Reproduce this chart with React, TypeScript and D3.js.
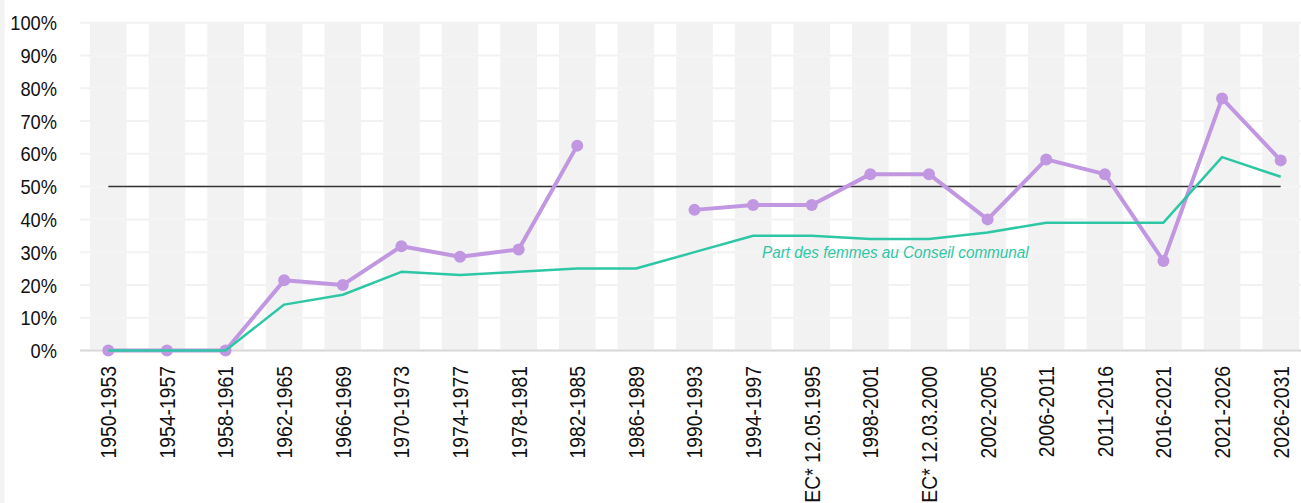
import React, { useEffect } from "react";
import * as d3 from "d3";

// Legislatures (x categories)
const periods = [
  "1950-1953", "1954-1957", "1958-1961", "1962-1965", "1966-1969", "1970-1973",
  "1974-1977", "1978-1981", "1982-1985", "1986-1989", "1990-1993", "1994-1997",
  "EC* 12.05.1995", "1998-2001", "EC* 12.03.2000", "2002-2005", "2006-2011",
  "2011-2016", "2016-2021", "2021-2026", "2026-2031",
];

// Share of women in the executive (null = no data)
const executiveShare: (number | null)[] = [
  0, 0, 0, 21.4, 20, 31.8, 28.6, 30.8, 62.5, null, 42.9, 44.4,
  44.4, 53.8, 53.8, 40, 58.3, 53.8, 27.3, 76.9, 58,
];

// Share of women in the Conseil communal
const councilShare: number[] = [
  0, 0, 0, 14, 17, 24, 23, 24, 25, 25, 30, 35,
  35, 34, 34, 36, 39, 39, 39, 59, 53,
];

const yTicks = [0, 10, 20, 30, 40, 50, 60, 70, 80, 90, 100];
const parityLevel = 50;
const councilLabel = "Part des femmes au Conseil communal";

const W = 1301;
const H = 503;
const FONT = "'Liberation Sans', Arial, sans-serif";
const NARROW = 0.87; // horizontal condensing of the label font
const PURPLE = "#c197e1";
const GREEN = "#2ec7a6";
const BAND = "#f2f2f2";

export default function App() {
  useEffect(() => {
    document.body.style.margin = "0";
  }, []);

  const x = d3.scaleBand<string>().domain(periods).range([79, 1310]).paddingInner(0.375).paddingOuter(0.1875);
  const cx = (p: string) => (x(p) ?? 0) + x.bandwidth() / 2;
  const y = d3.scaleLinear().domain([0, 100]).range([350.5, 22.7]);

  const execLine = d3
    .line<number | null>()
    .defined((d) => d !== null)
    .x((_, i) => cx(periods[i]))
    .y((d) => y(d as number));

  const councilLine = d3
    .line<number>()
    .x((_, i) => cx(periods[i]))
    .y((d) => y(d));

  const segments = yTicks.slice(0, -1);

  return (
    <svg width={W} height={H} style={{ position: "fixed", left: 0, top: 0, background: "#fff" }}>
      <rect x={0} y={0} width={4.5} height={H} fill={BAND} />

      {/* horizontal gridlines */}
      {yTicks.map((t) => (
        <line key={"g" + t} x1={80} x2={W} y1={y(t)} y2={y(t)} stroke="#f2f2f2" strokeWidth={2} />
      ))}

      {/* background columns, split at each gridline */}
      {periods.map((p) =>
        segments.map((t) => (
          <rect
            key={p + t}
            x={x(p)}
            width={x.bandwidth()}
            y={y(t + 10) + 1}
            height={y(t) - y(t + 10) - 2}
            fill={BAND}
          />
        ))
      )}

      {/* x axis baseline */}
      <line x1={80} x2={W} y1={y(0)} y2={y(0)} stroke="#d9d9d9" strokeWidth={2} />

      {/* y tick labels */}
      {yTicks.map((t) => (
        <text
          key={"yl" + t}
          transform={`translate(57,${y(t)}) scale(${NARROW},1)`}
          dy="0.36em"
          textAnchor="end"
          fontFamily={FONT}
          fontSize={21}
          fill="#111"
        >
          {t}%
        </text>
      ))}

      {/* x tick labels */}
      {periods.map((p) => (
        <text
          key={"xl" + p}
          transform={`translate(${cx(p)},${366}) rotate(-90) scale(${NARROW + 0.01},1)`}
          dy="0.36em"
          textAnchor="end"
          fontFamily={FONT}
          fontSize={22}
          fill="#111"
        >
          {p}
        </text>
      ))}

      {/* parity line */}
      <line
        x1={cx(periods[0])}
        x2={cx(periods[periods.length - 1])}
        y1={y(parityLevel)}
        y2={y(parityLevel)}
        stroke="#333"
        strokeWidth={1.5}
      />

      {/* executive share */}
      <path d={execLine(executiveShare) ?? ""} fill="none" stroke={PURPLE} strokeWidth={4} strokeLinejoin="round" />
      {executiveShare.map((v, i) =>
        v === null ? null : <circle key={"c" + i} cx={cx(periods[i])} cy={y(v)} r={6} fill={PURPLE} />
      )}

      {/* council share */}
      <path d={councilLine(councilShare) ?? ""} fill="none" stroke={GREEN} strokeWidth={2.5} strokeLinejoin="round" />
      <text
        transform={`translate(762,258) scale(0.9,1)`}
        fontFamily={FONT}
        fontStyle="italic"
        fontSize={17}
        fill={GREEN}
      >
        {councilLabel}
      </text>
    </svg>
  );
}
